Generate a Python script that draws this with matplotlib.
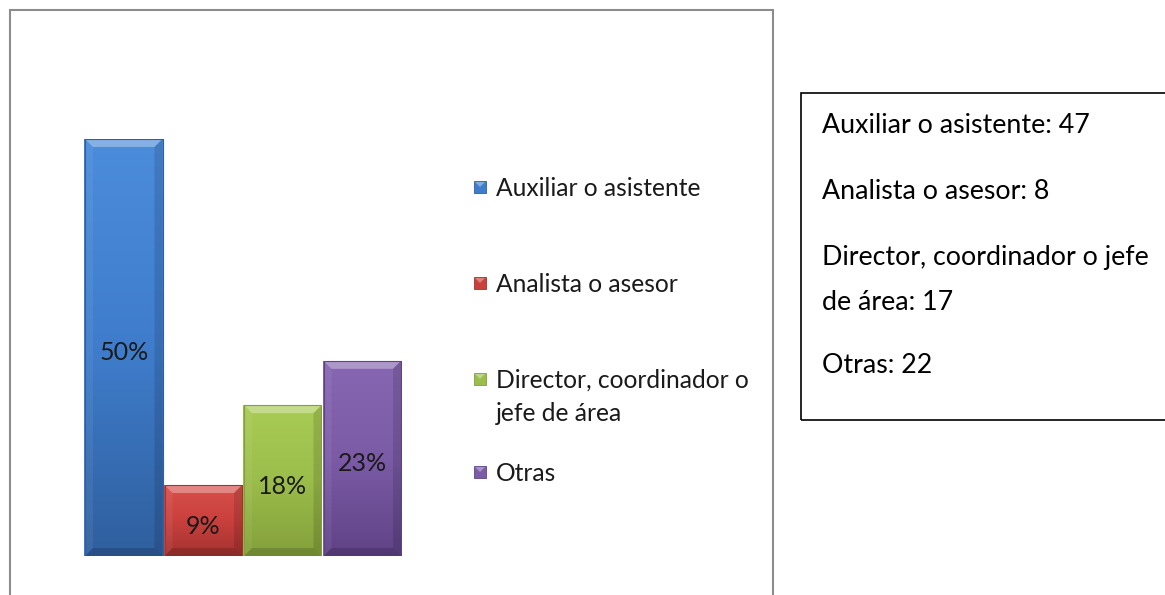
import numpy as np
import matplotlib
matplotlib.use("Agg")
import matplotlib.pyplot as plt
from matplotlib.patches import Rectangle, Polygon
from matplotlib.colors import LinearSegmentedColormap

plt.rcParams['font.family'] = ['Lato', 'DejaVu Sans']

# ---- data ----
categories = ["Auxiliar o asistente", "Analista o asesor",
              "Director, coordinador o\njefe de área", "Otras"]
counts = [47, 8, 17, 22]
pct_labels = ["50%", "9%", "18%", "23%"]
box_lines = ["Auxiliar o asistente: 47", "Analista o asesor: 8",
             "Director, coordinador o jefe", "de área: 17", "Otras: 22"]

# ---- styles ----
top_cols = ["#4b8cdb", "#d8504c", "#a9cc55", "#8767b2"]
bot_cols = ["#2f5f9e", "#a33230", "#83a03a", "#5f4386"]
face_cols = ["#3f7dcc", "#c9403d", "#9bbd4b", "#7b5ba6"]

W, H = 1165, 595
fig = plt.figure(figsize=(W / 100, H / 100), dpi=100)
fig.patch.set_facecolor("white")


def fx(x):
    return x / W


def fy(y_top):
    return (H - y_top) / H


# outer chart frame (grey)
fig.add_artist(Rectangle((fx(10), -0.05), fx(773) - fx(10), fy(10) + 0.05,
                         transform=fig.transFigure, fill=False,
                         edgecolor="#8c8c8c", lw=1.5))

# bar axes
ax_l, ax_r, ax_t, ax_b = 84, 402, 139, 556
ax = fig.add_axes([fx(ax_l), fy(ax_b), fx(ax_r) - fx(ax_l), fy(ax_t) - fy(ax_b)])
ax.set_axis_off()
n = len(counts)
xs = np.arange(n)
ax.set_xlim(-0.5, n - 0.5)
ax.set_ylim(0, max(counts))

dx = n / (ax_r - ax_l)          # data units per pixel (x)
dy = max(counts) / (ax_b - ax_t)  # data units per pixel (y)

bars = ax.bar(xs, counts, width=1.0, color=face_cols, edgecolor="none", zorder=2)
grad = np.linspace(0, 1, 256).reshape(-1, 1)
for i, b in enumerate(bars):
    x0, w, h = b.get_x(), b.get_width(), b.get_height()
    x0 += dx * 1.0
    x1 = x0 + w - dx * 2.0
    cmap = LinearSegmentedColormap.from_list("g", [bot_cols[i], face_cols[i], top_cols[i]])
    im = ax.imshow(grad, extent=(x0, x1, 0, h), origin="lower", aspect="auto",
                   cmap=cmap, zorder=3, interpolation="bilinear")
    im.set_clip_path(b)
    bx, by = 8 * dx, 8 * dy
    # bevels
    ax.add_patch(Polygon([(x0, h), (x1, h), (x1 - bx, h - by), (x0 + bx, h - by)],
                         closed=True, facecolor="white", alpha=0.32, lw=0, zorder=4))
    ax.add_patch(Polygon([(x0, 0), (x0, h), (x0 + bx, h - by), (x0 + bx, by)],
                         closed=True, facecolor="white", alpha=0.06, lw=0, zorder=4))
    ax.add_patch(Polygon([(x1, 0), (x1, h), (x1 - bx, h - by), (x1 - bx, by)],
                         closed=True, facecolor="black", alpha=0.12, lw=0, zorder=4))
    ax.add_patch(Polygon([(x0, 0), (x1, 0), (x1 - bx, by), (x0 + bx, by)],
                         closed=True, facecolor="black", alpha=0.15, lw=0, zorder=4))
    ax.add_patch(Rectangle((x0, 0), x1 - x0, h, fill=False,
                           edgecolor=bot_cols[i], lw=0.8, zorder=5))
ax.set_xlim(-0.5, n - 0.5)
ax.set_ylim(0, max(counts))

renderer = fig.canvas.get_renderer()


def scale_to(t, target):
    w = t.get_window_extent(renderer).width
    return t.get_fontsize() * target / w


# bar labels
lbls = []
for i, (c, lab) in enumerate(zip(counts, pct_labels)):
    t = ax.annotate(lab, (xs[i], c / 2), xytext=(0, -13), textcoords="offset pixels",
                    ha="center", va="baseline", fontsize=20, color="#1a1a1a", zorder=6)
    lbls.append(t)
fs = scale_to(lbls[0], 49)
for t in lbls:
    t.set_fontsize(fs)

# legend
leg_base = [196, 292, 388, 481]
line_gap = 33
leg_texts = []
for i, (cat, yb) in enumerate(zip(categories, leg_base)):
    sq = 12
    fig.add_artist(Rectangle((fx(474), fy(yb - 3)), sq / W, sq / H,
                             transform=fig.transFigure, facecolor=face_cols[i],
                             edgecolor=bot_cols[i], lw=0.6))
    fig.add_artist(Polygon([(fx(475), fy(yb - 14)), (fx(485), fy(yb - 14)), (fx(480), fy(yb - 9))],
                           closed=True, transform=fig.transFigure,
                           facecolor="white", alpha=0.35, lw=0))
    for k, part in enumerate(cat.split("\n")):
        t = fig.text(fx(496), fy(yb + k * line_gap), part, ha="left", va="baseline",
                     fontsize=18, color="#1a1a1a")
        leg_texts.append(t)
fs = scale_to(leg_texts[0], 204)
for t in leg_texts:
    t.set_fontsize(fs)

# right text box
fig.add_artist(Rectangle((fx(801), fy(420)), fx(1175) - fx(801), fy(93) - fy(420),
                         transform=fig.transFigure, fill=False,
                         edgecolor="black", lw=1.2))
box_base = [133, 199, 265, 310, 373]
box_texts = []
for line, yb in zip(box_lines, box_base):
    t = fig.text(fx(822), fy(yb), line, ha="left", va="baseline", fontsize=16, color="black")
    box_texts.append(t)
fs = scale_to(box_texts[0], 268)
for t in box_texts:
    t.set_fontsize(fs)

fig.savefig("out.png", dpi=100, facecolor="white")
